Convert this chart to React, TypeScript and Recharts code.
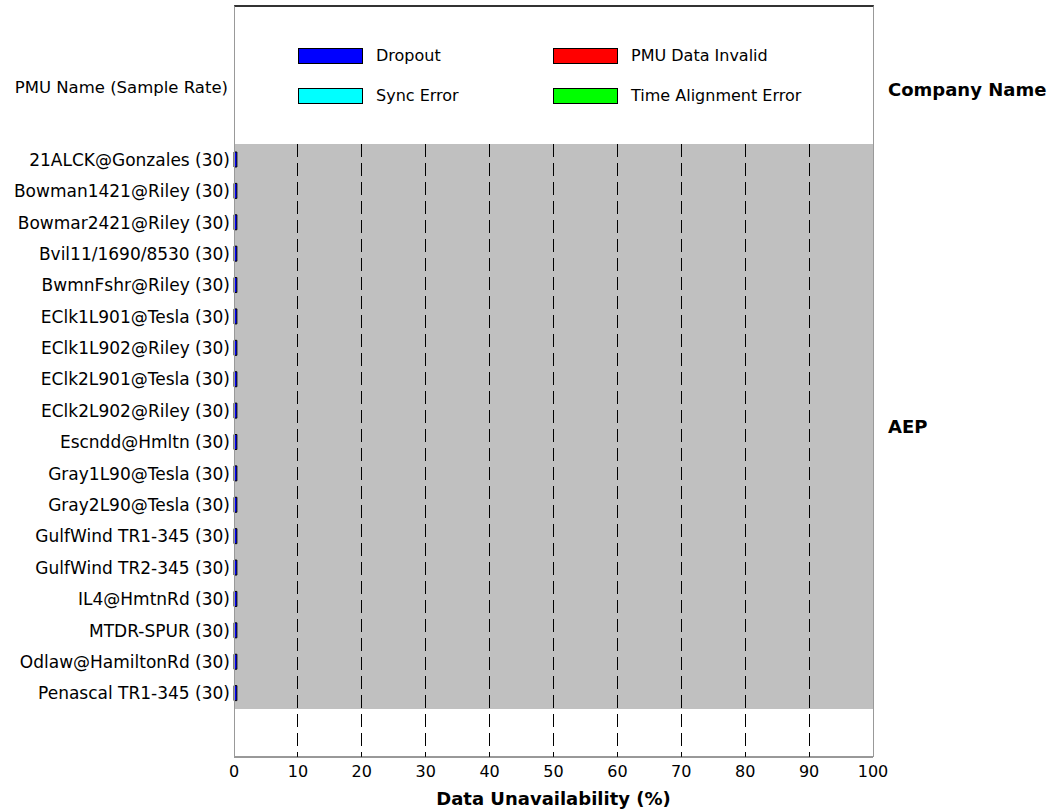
import { BarChart, Bar, XAxis, YAxis, CartesianGrid, ReferenceArea, Legend } from "recharts"

const PMU_NAMES = [
  "21ALCK@Gonzales (30)",
  "Bowman1421@Riley (30)",
  "Bowmar2421@Riley (30)",
  "Bvil11/1690/8530 (30)",
  "BwmnFshr@Riley (30)",
  "EClk1L901@Tesla (30)",
  "EClk1L902@Riley (30)",
  "EClk2L901@Tesla (30)",
  "EClk2L902@Riley (30)",
  "Escndd@Hmltn (30)",
  "Gray1L90@Tesla (30)",
  "Gray2L90@Tesla (30)",
  "GulfWind TR1-345 (30)",
  "GulfWind TR2-345 (30)",
  "IL4@HmtnRd (30)",
  "MTDR-SPUR (30)",
  "Odlaw@HamiltonRd (30)",
  "Penascal TR1-345 (30)",
]

const DROPOUT = [0.45, 0.45, 0.45, 0.45, 0.45, 0.45, 0.45, 0.45, 0.45, 0.45, 0.45, 0.45, 0.45, 0.45, 0.45, 0.45, 0.45, 0.45]
const PMU_DATA_INVALID = [0, 0, 0, 0, 0, 0, 0, 0, 0, 0, 0, 0, 0, 0, 0, 0, 0, 0]
const SYNC_ERROR = [0, 0, 0, 0, 0, 0, 0, 0, 0, 0, 0, 0, 0, 0, 0, 0, 0, 0]
const TIME_ALIGNMENT_ERROR = [0, 0, 0, 0, 0, 0, 0, 0, 0, 0, 0, 0, 0, 0, 0, 0, 0, 0]

const X_DOMAIN = [0, 100]
const X_TICKS = [0, 10, 20, 30, 40, 50, 60, 70, 80, 90, 100]
const GRID_TICKS = [10, 20, 30, 40, 50, 60, 70, 80, 90]
const COMPANY = "AEP"

const FONT = "'DejaVu Sans', sans-serif"

const data = PMU_NAMES.map((name, i) => ({
  name,
  dropout: DROPOUT[i],
  invalid: PMU_DATA_INVALID[i],
  sync: SYNC_ERROR[i],
  align: TIME_ALIGNMENT_ERROR[i],
}))

// grid only on the inner ticks; the frame draws 0 and 100 solid
function gridX({ xAxis, offset }: any) {
  const s = xAxis && xAxis.scale
  if (typeof s === "function") return GRID_TICKS.map((t) => s(t))
  if (s && typeof s.map === "function") return GRID_TICKS.map((t) => s.map(t))
  return GRID_TICKS.map(
    (t) => offset.left + ((t - X_DOMAIN[0]) / (X_DOMAIN[1] - X_DOMAIN[0])) * offset.width
  )
}

function LegendBox({ payload }: any) {
  return (
    <div
      style={{
        display: "grid",
        gridTemplateColumns: "255px 255px",
        rowGap: 23,
        fontFamily: FONT,
        fontSize: 16,
        color: "#000",
      }}
    >
      {(payload || []).map((entry: any) => (
        <div key={entry.value} style={{ display: "flex", alignItems: "center", height: 17 }}>
          <span
            style={{
              display: "inline-block",
              width: 65,
              height: 16,
              background: entry.color,
              border: "1px solid #000",
              boxSizing: "border-box",
              marginRight: 13,
            }}
          />
          <span>{entry.value}</span>
        </div>
      ))}
    </div>
  )
}

export default function App() {
  return (
    <div style={{ position: "absolute", left: 0, top: 0, width: 1059, height: 811, fontFamily: FONT }}>

      <BarChart
        width={1059}
        height={811}
        data={data}
        layout="vertical"
        margin={{ top: 144, right: 186, bottom: 6, left: 8 }}
        barSize={15}
      >

        <ReferenceArea
          x1={0}
          x2={100}
          y1={PMU_NAMES[0]}
          y2={PMU_NAMES[PMU_NAMES.length - 1]}
          fill="#c0c0c0"
          fillOpacity={1}
          stroke="none"
          zIndex={-150}
          label={{
            value: COMPANY,
            position: "right",
            offset: 15,
            style: { fontFamily: FONT, fontSize: 18, fontWeight: "bold", fill: "#000" },
          }}
        />

        <CartesianGrid
          horizontal={false}
          stroke="#000"
          strokeDasharray="13 6"
          shapeRendering="crispEdges"
          verticalCoordinatesGenerator={gridX}
        />

        <XAxis
          type="number"
          domain={X_DOMAIN}
          ticks={X_TICKS}
          interval={0}
          height={48}
          tickLine={false}
          tickSize={0}
          tickMargin={9}
          axisLine={{ stroke: "#333" }}
          tick={{ fontFamily: FONT, fontSize: 16, fill: "#000" }}
          label={{
            value: "Data Unavailability (%)",
            position: "insideBottom",
            offset: 0,
            style: { fontFamily: FONT, fontSize: 18, fontWeight: "bold", fill: "#000" },
          }}
        />

        <YAxis
          type="category"
          dataKey="name"
          width={226}
          interval={0}
          padding={{ top: 0, bottom: 48 }}
          axisLine={false}
          tickLine={false}
          tickSize={0}
          tickMargin={4}
          tick={{ fontFamily: FONT, fontSize: 17, fill: "#000" }}
        />

        <Legend
          layout="horizontal"
          verticalAlign="middle"
          align="center"
          content={<LegendBox />}
          wrapperStyle={{ position: "absolute", top: 47, left: 298, width: 520, height: 60 }}
        />

        <Bar dataKey="dropout" name="Dropout" stackId="a" fill="#0000ff" stroke="#000" strokeWidth={1} isAnimationActive={false} />
        <Bar dataKey="invalid" name="PMU Data Invalid" stackId="a" fill="#ff0000" stroke="#000" strokeWidth={1} isAnimationActive={false} />
        <Bar dataKey="sync" name="Sync Error" stackId="a" fill="#00ffff" stroke="#000" strokeWidth={1} isAnimationActive={false} />
        <Bar dataKey="align" name="Time Alignment Error" stackId="a" fill="#00ff00" stroke="#000" strokeWidth={1} isAnimationActive={false} />

      </BarChart>

      {/* frame around legend area and plot */}
      <div
        style={{
          position: "absolute",
          left: 234,
          top: 5,
          width: 640,
          height: 752,
          boxSizing: "border-box",
          borderTop: "2px solid #333",
          borderLeft: "1px solid #999",
          borderRight: "1px solid #999",
          pointerEvents: "none",
          zIndex: 5,
        }}
      />

      <div
        style={{
          position: "absolute",
          left: 0,
          top: 78,
          width: 228,
          textAlign: "right",
          fontSize: 16.5,
          lineHeight: "20px",
          color: "#000",
        }}
      >
        PMU Name (Sample Rate)
      </div>

      <div
        style={{
          position: "absolute",
          left: 888,
          top: 79,
          fontSize: 18,
          fontWeight: "bold",
          lineHeight: "22px",
          whiteSpace: "nowrap",
          color: "#000",
        }}
      >
        Company Name
      </div>

    </div>
  )
}
